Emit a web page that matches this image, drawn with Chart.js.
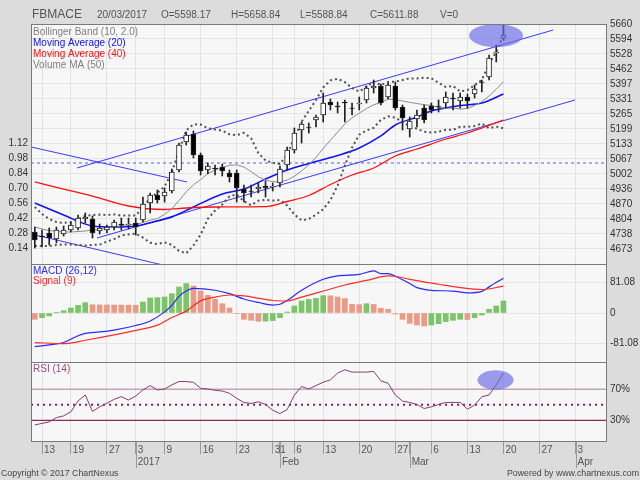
<!DOCTYPE html>
<html lang="en">
<head>
<meta charset="UTF-8">
<title>FBMACE</title>
<script src="https://cdn.jsdelivr.net/npm/chart.js@4"></script>
<style>
  html, body { margin: 0; padding: 0; background: #dcdcdc; }
</style>
</head>
<body>
<canvas id="chart" width="640" height="480"></canvas>
<script>
const FONT = "'Liberation Sans', Arial, sans-serif";

// trading days shown on the axis (last real candle is 2017-03-20, the rest is empty space)
const dates = [
  '2016-12-09',
  '2016-12-13','2016-12-14','2016-12-15','2016-12-16',
  '2016-12-19','2016-12-20','2016-12-21','2016-12-22','2016-12-23',
  '2016-12-27','2016-12-28','2016-12-29','2016-12-30',
  '2017-01-03','2017-01-04','2017-01-05','2017-01-06',
  '2017-01-09','2017-01-10','2017-01-11','2017-01-12','2017-01-13',
  '2017-01-16','2017-01-17','2017-01-18','2017-01-19','2017-01-20',
  '2017-01-23','2017-01-24','2017-01-25','2017-01-26','2017-01-27',
  '2017-01-31',
  '2017-02-02','2017-02-03',
  '2017-02-06','2017-02-07','2017-02-08','2017-02-10',
  '2017-02-13','2017-02-14','2017-02-15','2017-02-16','2017-02-17',
  '2017-02-20','2017-02-21','2017-02-22','2017-02-23','2017-02-24',
  '2017-02-27','2017-02-28','2017-03-01','2017-03-02','2017-03-03',
  '2017-03-06','2017-03-07','2017-03-08','2017-03-09','2017-03-10',
  '2017-03-13','2017-03-14','2017-03-15','2017-03-16','2017-03-17',
  '2017-03-20',
  '2017-03-21','2017-03-22','2017-03-23','2017-03-24',
  '2017-03-27','2017-03-28','2017-03-29','2017-03-30','2017-03-31',
  '2017-04-03','2017-04-04','2017-04-05','2017-04-06','2017-04-07'
];

const opens = [
  4747.5, 4730.0, 4743.1, 4716.8, 4738.7, 4756.3, 4765.1, 4804.5, 4804.5, 4751.9,
  4756.3, 4769.4, 4782.6, 4778.2, 4787.0, 4800.1, 4874.7, 4909.8, 4905.4, 4927.4,
  5019.5, 5142.3, 5177.4, 5085.3, 5019.5, 5028.3, 5032.7, 5006.3, 5006.3, 4936.1,
  4927.4, 4936.1, 4949.3, 4944.9, 4962.5, 5041.4, 5107.2, 5195.0, 5208.1, 5238.8,
  5260.8, 5317.8, 5300.3, 5317.8, 5291.5, 5309.0, 5326.6, 5379.2, 5388.0, 5339.7,
  5388.0, 5295.9, 5199.4, 5243.2, 5291.5, 5300.3, 5300.3, 5313.4, 5335.4, 5322.2,
  5339.7, 5352.9, 5405.6, 5427.5, 5532.8, 5598.17
];
const highs = [
  4769.4, 4756.3, 4765.1, 4769.4, 4773.8, 4791.4, 4822.1, 4830.9, 4817.7, 4782.6,
  4778.2, 4800.1, 4808.9, 4808.9, 4808.9, 4901.0, 4918.6, 4931.8, 4940.5, 5023.9,
  5137.9, 5186.2, 5190.6, 5094.1, 5050.2, 5041.4, 5045.8, 5019.5, 5019.5, 4953.7,
  4953.7, 4962.5, 4971.2, 4962.5, 5037.0, 5120.4, 5203.8, 5230.1, 5225.7, 5260.8,
  5357.3, 5331.0, 5317.8, 5326.6, 5313.4, 5339.7, 5388.0, 5414.3, 5396.8, 5401.2,
  5405.6, 5304.7, 5252.0, 5282.7, 5304.7, 5313.4, 5326.6, 5361.7, 5357.3, 5357.3,
  5352.9, 5392.4, 5414.3, 5524.0, 5567.9, 5658.84
];
const lows = [
  4677.3, 4681.7, 4690.5, 4699.3, 4730.0, 4747.5, 4756.3, 4787.0, 4721.2, 4738.7,
  4743.1, 4756.3, 4756.3, 4760.7, 4734.4, 4791.4, 4830.9, 4874.7, 4879.1, 4918.6,
  5010.7, 5129.2, 5072.1, 4997.6, 5001.9, 4997.6, 4993.2, 4966.9, 4879.1, 4879.1,
  4901.0, 4918.6, 4901.0, 4927.4, 4944.9, 5019.5, 5094.1, 5137.9, 5181.8, 5208.1,
  5230.1, 5282.7, 5269.6, 5230.1, 5260.8, 5282.7, 5313.4, 5357.3, 5304.7, 5331.0,
  5282.7, 5195.0, 5164.3, 5208.1, 5225.7, 5269.6, 5274.0, 5291.5, 5282.7, 5291.5,
  5291.5, 5335.4, 5361.7, 5414.3, 5493.3, 5588.84
];
const closes = [
  4712.4, 4725.6, 4721.2, 4756.3, 4756.3, 4778.2, 4808.9, 4813.3, 4743.1, 4765.1,
  4769.4, 4791.4, 4778.2, 4782.6, 4769.4, 4870.3, 4909.8, 4887.9, 4923.0, 5010.7,
  5129.2, 5173.0, 5085.3, 5015.1, 5037.0, 5023.9, 5015.1, 4988.8, 4940.5, 4918.6,
  4925.2, 4944.9, 4940.5, 4949.3, 5023.9, 5107.2, 5181.8, 5221.3, 5205.9, 5252.0,
  5313.4, 5304.7, 5295.9, 5313.4, 5289.3, 5313.4, 5379.2, 5388.0, 5313.4, 5392.4,
  5291.5, 5247.6, 5234.5, 5260.8, 5238.8, 5282.7, 5298.1, 5339.7, 5331.0, 5339.7,
  5322.2, 5374.8, 5403.4, 5510.8, 5537.2, 5611.88
];
const volume = 0;

// Bollinger band (10, 2.0)
const bbUpper = [
  4857.2, 4826.5, 4804.5, 4791.4, 4787.0, 4791.4, 4804.5, 4817.7, 4822.1, 4823.8,
  4822.1, 4824.7, 4819.5, 4820.3, 4819.5, 4855.9, 4898.0, 4919.0, 4947.5, 5007.7,
  5105.9, 5192.8, 5220.0, 5218.7, 5202.9, 5197.2, 5192.3, 5176.1, 5172.2, 5182.3,
  5159.0, 5094.1, 5061.2, 5051.5, 5045.8, 5087.5, 5159.0, 5231.4, 5278.8, 5326.6,
  5381.6, 5412.6, 5419.6, 5405.6, 5378.8, 5363.9, 5384.9, 5406.4, 5392.4, 5405.6,
  5406.7, 5414.3, 5421.4, 5421.4, 5424.4, 5421.8, 5402.5, 5383.6, 5388.0, 5363.9,
  5370.0, 5392.0, 5414.8, 5485.4, 5538.1, 5611.8
];
const bbMid = [
  4769.5, 4760.7, 4754.1, 4749.7, 4747.5, 4747.5, 4749.7, 4751.9, 4756.3, 4758.0,
  4763.7, 4770.3, 4776.0, 4778.7, 4780.0, 4789.2, 4799.3, 4806.7, 4824.7, 4849.3,
  4885.3, 4923.4, 4954.2, 4977.4, 5004.2, 5019.5, 5030.0, 5040.1, 5041.9, 5032.7,
  5012.3, 4989.5, 4975.0, 4968.4, 4967.1, 4975.4, 4992.1, 5015.3, 5041.9, 5075.2,
  5114.0, 5150.0, 5185.5, 5221.9, 5248.5, 5269.1, 5288.9, 5305.5, 5316.3, 5330.3,
  5328.1, 5322.4, 5316.3, 5311.0, 5306.0, 5302.9, 5294.8, 5290.0, 5291.7, 5286.5,
  5289.5, 5302.3, 5319.1, 5344.1, 5373.6, 5406.9
];
const bbLower = [
  4686.1, 4686.1, 4686.1, 4690.5, 4692.7, 4692.7, 4690.5, 4688.3, 4690.5, 4692.2,
  4705.4, 4715.9, 4732.6, 4737.0, 4740.5, 4722.5, 4700.6, 4694.4, 4701.9, 4691.0,
  4664.6, 4654.1, 4688.3, 4736.1, 4805.4, 4841.8, 4867.7, 4904.1, 4911.6, 4883.1,
  4865.1, 4884.8, 4888.8, 4885.3, 4887.9, 4863.8, 4824.7, 4798.7, 4804.5, 4823.8,
  4847.5, 4887.4, 4951.5, 5038.4, 5118.2, 5174.4, 5192.8, 5204.6, 5239.7, 5254.7,
  5249.6, 5230.5, 5211.2, 5200.7, 5187.5, 5184.0, 5187.1, 5196.3, 5195.6, 5209.0,
  5209.0, 5212.5, 5223.5, 5202.9, 5209.9, 5202.0
];

// moving averages, read at the day positions listed
const ma20Days = [0, 4, 8, 11, 14, 17, 19, 22, 26, 29, 32, 35, 38, 42, 45, 48, 50, 53, 55, 59, 62, 65];
const ma20 = [4874.7, 4822.1, 4773.8, 4769.4, 4773.8, 4795.8, 4813.3, 4857.2, 4914.2, 4936.1, 4980.0,
              5019.5, 5048.0, 5083.1, 5116.1, 5168.7, 5216.9, 5252.0, 5278.3, 5302.5, 5313.4, 5352.9];
const ma40Days = [0, 4, 8, 13, 18, 21, 25, 32, 35, 38, 41, 44, 47, 50, 53, 57, 60, 62, 65];
const ma40 = [4966.9, 4936.1, 4905.4, 4861.6, 4846.2, 4852.8, 4857.2, 4858.5, 4881.3, 4907.6,
              4956.0, 4997.6, 5028.3, 5080.9, 5111.6, 5155.5, 5181.8, 5203.8, 5238.8];

// hand drawn lines: [day1, price1, day2, price2]
const trendLines = [
  [5.85, 5028.3, 71.9, 5633.7],
  [8.63, 4721.2, 74.92, 5326.6],
  [-0.53, 5120.4, 21.1, 4966.9],
  [-0.53, 4738.7, 18.34, 4598.4]
];
const levelLine = 5050.2;

// MACD (26,12), signal (9)
const macdDays = [0, 2, 4, 6, 7, 9, 11, 14, 16, 18, 19, 20, 21, 22, 25, 27, 29, 31, 33, 34,
                  35, 37, 40, 42, 45, 47, 48, 49, 50, 52, 53, 55, 58, 60, 62, 63, 65];
const macd = [-89, -84, -78, -60, -54, -50, -45, -33, -21, 3, 20, 44, 58, 65, 60, 51, 37, 28, 21, 23,
              33, 60, 89, 98, 102, 111, 104, 104, 97, 78, 67, 60, 58, 53, 57, 69, 92];
const signalDays = [0, 4, 7, 11, 14, 17, 19, 21, 23, 25, 27, 29, 33, 35, 37, 40, 43, 46, 49, 50, 52, 56, 59, 62, 65];
const signal = [-78, -81, -72, -58, -46, -32, -12, 5, 32, 42, 47.5, 45, 33, 31.7, 42, 58, 74, 86, 98, 97, 89, 76, 67, 62, 71];
const histogram = [
  -16.7, -12.3, -7.9, 1.8, 6.2, 13.2, 20.2, 27.3, 21.8, 21.4,
  21.2, 21.0, 20.9, 20.7, 20.5, 29.0, 39.6, 40.5, 42.3, 51.1,
  68.7, 77.5, 71.3, 58.1, 46.7, 36.1, 24.6, 13.2, -1.0, -16.7,
  -19.4, -22.0, -21.5, -20.0, -12.3, 2.6, 18.5, 31.7, 36.1, 38.7,
  45.8, 45.3, 42.3, 37.9, 22.9, 22.0, 24.6, 22.5, 12.3, 9.7,
  -2.6, -16.7, -27.3, -31.7, -34.3, -31.7, -28.2, -22.9, -19.4, -16.7,
  -17.2, -12.3, -5.3, 9.7, 18.5, 31.7
];

// RSI (14)
const rsi = [
  24, 26, 28, 33.5, 35.7, 41, 55, 62.6, 41.5, 47.4,
  52, 57, 60.5, 56.1, 61.3, 69.1, 74.8, 69.1, 70.4, 75.7,
  80, 80, 79, 71.3, 70.4, 68.7, 67.8, 64.8, 58.3, 53,
  51.7, 53.9, 50.4, 43, 38.7, 43.9, 62.6, 73.5, 70.4, 74.8,
  79.1, 82.2, 90.9, 95.2, 92.2, 92.2, 92.2, 93, 80.9, 77.8,
  62.6, 54.8, 53, 50.4, 45.2, 47.4, 50.4, 53, 53, 53,
  44.3, 49.6, 60.4, 62.6, 75.7, 90.9
];
const rsiLevels = [70, 50, 30];

// axis tick labels
const priceTickLabels = ['5660', '5594', '5528', '5462', '5397', '5331', '5265', '5199',
                         '5133', '5067', '5002', '4936', '4870', '4804', '4738', '4673'];
const macdTicks = [81.08, 0, -81.08];
const rsiTicks = [70, 30];
const volTicks = [0.14, 0.28, 0.42, 0.56, 0.70, 0.84, 0.98, 1.12];

// highlight ellipses: centre day, centre value, radius in days, radius in value
const highlights = [
  { axis: 'y', day: 63.97, value: 5609.5, rDay: 3.74, rValue: 50.5 },
  { axis: 'rsi', day: 63.9, value: 82, rDay: 2.5, rValue: 12.5 }
];

// ---- layout / scale ranges ----
const X_MIN = -0.527, X_MAX = 79.36;
const PRICE_MIN = 4607.1, PRICE_MAX = 5660;
const PRICE_STEP = (5660 - 4673) / 15;

const MONTHS = ['Jan','Feb','Mar','Apr','May','Jun','Jul','Aug','Sep','Oct','Nov','Dec'];
const xTicks = [];
const weekTicks = new Set();
const monthTicks = [];
dates.forEach((d, i) => {
  if (i === 0) return;
  const cur = new Date(d + 'T00:00:00Z');
  const prev = new Date(dates[i - 1] + 'T00:00:00Z');
  const newWeek = cur.getUTCDay() <= prev.getUTCDay() || (cur - prev) >= 7 * 864e5;
  const newMonth = cur.getUTCMonth() !== prev.getUTCMonth();
  if (!newWeek && !newMonth) return;
  let second = '';
  if (newMonth) {
    second = cur.getUTCFullYear() !== prev.getUTCFullYear() ? String(cur.getUTCFullYear()) : MONTHS[cur.getUTCMonth()];
    monthTicks.push(i);
  }
  if (newWeek) weekTicks.add(i);
  xTicks.push({ value: i, label: [newWeek ? String(cur.getUTCDate()) : '', second] });
});

const GREEN = '#7cc46a';
const SALMON = '#eb9a86';
const candleIdx = opens.map((_, i) => i);
const full = arr => arr.map((v, i) => ({ x: i, y: v }));
const sparse = (days, vals) => days.map((d, k) => ({ x: d, y: vals[k] }));
const lineDs = (data, axis, color, width, extra) => Object.assign({
  type: 'line', data: data, yAxisID: axis, borderColor: color, borderWidth: width,
  pointRadius: 0, fill: false, order: 5
}, extra || {});

const datasets = [];

// price panel lines
datasets.push(lineDs(full(bbUpper), 'y', '#505050', 2, { borderDash: [2, 3] }));
datasets.push(lineDs(full(bbLower), 'y', '#505050', 2, { borderDash: [2, 3] }));
datasets.push(lineDs(full(bbMid), 'y', '#8c8c8c', 1));
datasets.push(lineDs(sparse(ma40Days, ma40), 'y', '#ff1010', 1.3, { cubicInterpolationMode: 'monotone' }));
datasets.push(lineDs(sparse(ma20Days, ma20), 'y', '#1010ff', 1.5, { cubicInterpolationMode: 'monotone' }));
trendLines.forEach(t => {
  datasets.push(lineDs([{ x: t[0], y: t[1] }, { x: t[2], y: t[3] }], 'y', '#3a3aff', 1));
});
datasets.push(lineDs([{ x: X_MIN, y: levelLine }, { x: X_MAX, y: levelLine }], 'y', '#5a5aff', 1, { borderDash: [3, 3] }));

// candles: wick then body
datasets.push({
  type: 'bar', data: candleIdx.map(i => ({ x: i, y: [lows[i], highs[i]] })), yAxisID: 'y',
  backgroundColor: '#222222', barThickness: 1, grouped: false, order: 1
});
datasets.push({
  type: 'bar', data: candleIdx.map(i => ({ x: i, y: [opens[i], closes[i]] })), yAxisID: 'y',
  backgroundColor: candleIdx.map(i => closes[i] >= opens[i] ? '#ffffff' : '#000000'),
  borderColor: '#222222', borderWidth: 1, borderSkipped: false,
  barThickness: 5, grouped: false, order: 0
});

// MACD panel
datasets.push({
  type: 'bar', data: full(histogram), yAxisID: 'macd',
  backgroundColor: histogram.map((v, i) => i > 0 && v > histogram[i - 1] ? GREEN : SALMON),
  barThickness: 5, grouped: false, order: 6
});
datasets.push(lineDs(sparse(signalDays, signal), 'macd', '#ff2a2a', 1.2, { cubicInterpolationMode: 'monotone' }));
datasets.push(lineDs(sparse(macdDays, macd), 'macd', '#2a2aff', 1.2, { cubicInterpolationMode: 'monotone' }));

// RSI panel
const levelStyle = {
  70: { color: '#bfa6b4', width: 1.5, dash: [] },
  50: { color: '#8c1f62', width: 2, dash: [2, 4] },
  30: { color: '#8a2a60', width: 1.2, dash: [] }
};
rsiLevels.forEach(l => {
  datasets.push(lineDs([{ x: X_MIN, y: l }, { x: X_MAX, y: l }], 'rsi',
    levelStyle[l].color, levelStyle[l].width, { borderDash: levelStyle[l].dash, order: 6 }));
});
datasets.push(lineDs(full(rsi), 'rsi', '#8a3a6e', 1));

const rightTicks = { color: '#333333', padding: 3, autoSkip: false, font: { family: FONT, size: 10 } };

const chromePlugin = {
  id: 'chrome',
  beforeDraw(chart) {
    const { ctx, chartArea: a } = chart;
    ctx.save();
    ctx.fillStyle = '#dcdcdc';
    ctx.fillRect(0, 0, chart.width, chart.height);
    ctx.fillStyle = '#f7f7f7';
    ctx.fillRect(a.left, a.top, a.right - a.left, a.bottom - a.top);
    ctx.restore();
  },
  afterDatasetsDraw(chart) {
    const { ctx, scales } = chart;
    const xs = scales.x;
    ctx.save();
    ctx.fillStyle = 'rgba(105,105,232,0.65)';
    highlights.forEach(h => {
      const ys = scales[h.axis];
      const cx = xs.getPixelForValue(h.day);
      const cy = ys.getPixelForValue(h.value);
      const rx = Math.abs(xs.getPixelForValue(h.day + h.rDay) - cx);
      const ry = Math.abs(ys.getPixelForValue(h.value + h.rValue) - cy);
      ctx.beginPath();
      ctx.ellipse(cx, cy, rx, ry, 0, 0, Math.PI * 2);
      ctx.fill();
    });
    ctx.restore();
  },
  afterDraw(chart) {
    const { ctx, chartArea: a, scales } = chart;
    ctx.save();
    // panel frames
    ctx.strokeStyle = '#7a7a7a';
    ctx.lineWidth = 1;
    ctx.strokeRect(a.left + 0.5, a.top + 0.5, a.right - a.left - 1, a.bottom - a.top - 1);
    [scales.y.bottom, scales.macd.bottom].forEach(yb => {
      const y = Math.round(yb) + 0.5;
      ctx.beginPath();
      ctx.moveTo(a.left, y);
      ctx.lineTo(a.right, y);
      ctx.stroke();
    });
    // long ticks for month / year labels
    ctx.strokeStyle = '#9a9a9a';
    monthTicks.forEach(i => {
      const x = Math.round(scales.x.getPixelForValue(i)) + 0.5;
      ctx.beginPath();
      ctx.moveTo(x, a.bottom);
      ctx.lineTo(x, a.bottom + 26);
      ctx.stroke();
    });

    // header
    const last = opens.length - 1;
    const d = dates[last].split('-');
    ctx.fillStyle = '#555555';
    ctx.textBaseline = 'alphabetic';
    ctx.font = '12px ' + FONT;
    ctx.fillText('FBMACE', 32, 18);
    ctx.font = '10px ' + FONT;
    const head = [
      [d[2] + '/' + d[1] + '/' + d[0], 97],
      ['O=' + opens[last].toFixed(2), 161],
      ['H=' + highs[last].toFixed(2), 231],
      ['L=' + lows[last].toFixed(2), 300],
      ['C=' + closes[last].toFixed(2), 370],
      ['V=' + volume, 440]
    ];
    head.forEach(h => ctx.fillText(h[0], h[1], 18));

    // panel legends
    ctx.textBaseline = 'middle';
    const legends = [
      ['Bollinger Band (10, 2.0)', '#808080', 32.5],
      ['Moving Average (20)', '#1010ff', 43.3],
      ['Moving Average (40)', '#ff1010', 54],
      ['Volume MA (50)', '#808080', 65],
      ['MACD (26,12)', '#2a2aff', 270.8],
      ['Signal (9)', '#ff2a2a', 281.4],
      ['RSI (14)', '#905080', 369.5]
    ];
    legends.forEach(l => {
      ctx.fillStyle = l[1];
      ctx.fillText(l[0], 33, l[2]);
    });

    // footer
    ctx.fillStyle = '#444444';
    ctx.font = '8.8px ' + FONT;
    ctx.textAlign = 'left';
    ctx.fillText('Copyright \u00a9 2017 ChartNexus', 1, 474);
    ctx.textAlign = 'right';
    ctx.fillText('Powered by www.chartnexus.com', 639, 474);
    ctx.restore();
  }
};

new Chart(document.getElementById('chart'), {
  type: 'line',
  data: { datasets: datasets },
  plugins: [chromePlugin],
  options: {
    responsive: false,
    animation: false,
    devicePixelRatio: 1,
    events: [],
    layout: { padding: { top: 24, left: 0, right: 0, bottom: 0 } },
    plugins: { legend: { display: false }, tooltip: { enabled: false } },
    scales: {
      x: {
        type: 'linear', min: X_MIN, max: X_MAX, offset: false,
        border: { display: false },
        grid: {
          offset: false, drawTicks: true, tickLength: 12, tickColor: '#9a9a9a',
          color: c => (c.tick && weekTicks.has(c.tick.value)) ? '#e2e2e2' : 'rgba(0,0,0,0)'
        },
        afterBuildTicks: s => { s.ticks = xTicks.map(t => ({ value: t.value })); },
        afterFit: s => { s.height = 38; },
        ticks: {
          autoSkip: false, maxRotation: 0, minRotation: 0, align: 'start', labelOffset: 2, padding: -10,
          color: '#555555', font: { family: FONT, size: 10 },
          callback: (v, k) => xTicks[k] ? xTicks[k].label : ''
        }
      },
      y: {
        type: 'linear', position: 'right', stack: 'panels', stackWeight: 240,
        min: PRICE_MIN, max: PRICE_MAX,
        border: { display: false },
        grid: { color: '#e4e4e4', drawTicks: false },
        afterBuildTicks: s => { s.ticks = priceTickLabels.map((_, k) => ({ value: PRICE_MAX - k * PRICE_STEP })); },
        afterFit: s => { s.width = 33; },
        ticks: Object.assign({}, rightTicks, { callback: (v, k) => priceTickLabels[k] })
      },
      macd: {
        type: 'linear', position: 'right', stack: 'panels', stackWeight: 98,
        min: -129.4, max: 129.4,
        border: { display: false },
        grid: { color: '#e4e4e4', drawTicks: false },
        afterBuildTicks: s => { s.ticks = macdTicks.map(v => ({ value: v })); },
        afterFit: s => { s.width = 33; },
        ticks: Object.assign({}, rightTicks, { callback: v => v === 0 ? '0' : v.toFixed(2) })
      },
      rsi: {
        type: 'linear', position: 'right', stack: 'panels', stackWeight: 80,
        min: 2.0, max: 105.2,
        border: { display: false },
        grid: { display: false, drawTicks: false },
        afterBuildTicks: s => { s.ticks = rsiTicks.map(v => ({ value: v })); },
        afterFit: s => { s.width = 33; },
        ticks: Object.assign({}, rightTicks, { callback: v => v + '%' })
      },
      vol: {
        type: 'linear', position: 'left',
        min: -1.6707, max: 2.2307,
        border: { display: false },
        grid: { display: false, drawTicks: false },
        afterBuildTicks: s => { s.ticks = volTicks.map(v => ({ value: v })); },
        afterFit: s => { s.width = 31; },
        ticks: { color: '#333333', padding: 3, autoSkip: false, font: { family: FONT, size: 10 },
                 callback: v => v.toFixed(2) }
      }
    }
  }
});
</script>
</body>
</html>
